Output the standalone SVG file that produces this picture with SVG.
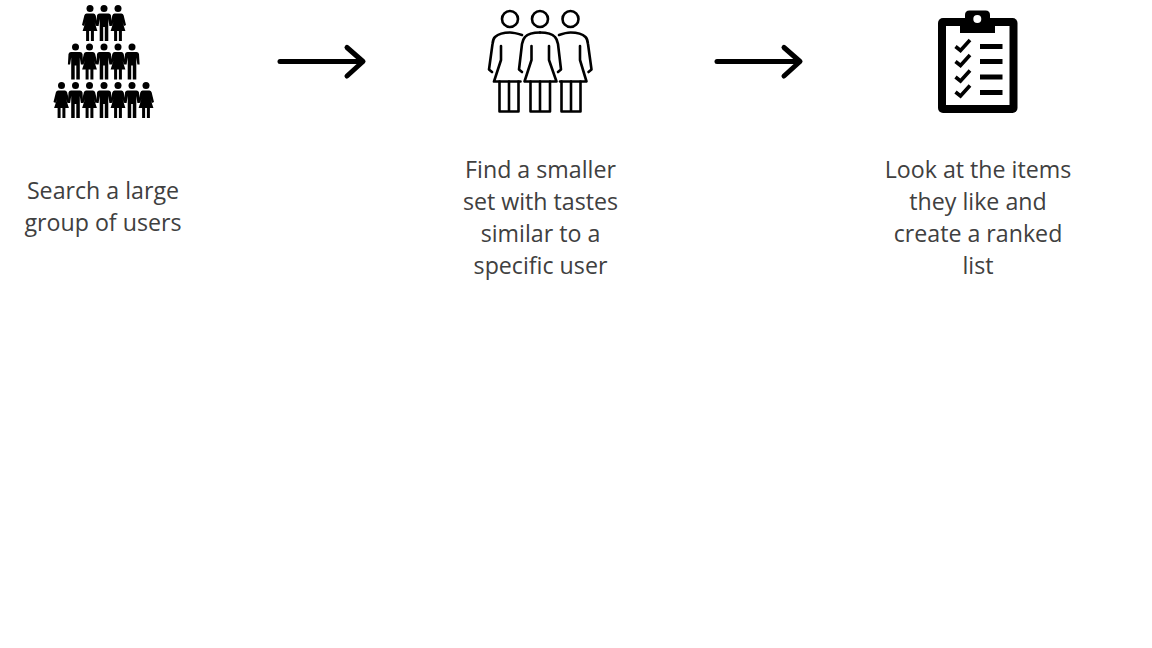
<svg xmlns="http://www.w3.org/2000/svg" xmlns:xlink="http://www.w3.org/1999/xlink" width="1152" height="648" viewBox="0 0 1152 648">
<style>
.t{font-family:"Open Sans","Noto Sans","Liberation Sans",sans-serif;font-size:23.2px;fill:#404040;text-anchor:middle}
.o{fill:none;stroke:#000;stroke-width:2.6;stroke-linecap:round;stroke-linejoin:round}
.a{fill:none;stroke:#000;stroke-width:5;stroke-linecap:round;stroke-linejoin:round}
.c{fill:none;stroke:#000;stroke-width:3.6}
</style>
<defs>
<g id="w"><circle cx="0" cy="3.400" r="3.500"/><path d="M-3.400 8.500H3.400Q5 8.500 5.600 10.200L8 20L6 21L4.500 17L7.400 26H3.900V36H0.900V26H-0.900V36H-3.900V26H-7.400L-4.500 17L-6 21L-8 20L-5.600 10.200Q-5 8.500-3.400 8.500Z"/></g>
<g id="m"><circle cx="0" cy="3.400" r="3.500"/><path d="M-4.500 8.500H4.500Q6.500 8.500 7 10.500L7.600 21H5.400L4.300 14V36H0.800V22H-0.800V36H-4.300V14L-5.400 21H-7.600L-7 10.500Q-6.500 8.500-4.500 8.500Z"/></g>
<g id="aw"><path d="M0 0H82"/><path d="M67 -14L83 0L67 14.500"/></g>
</defs>
<rect width="1152" height="648" fill="#fff"/>
<g id="connectors">
<use xlink:href="#aw" href="#aw" x="280" y="61.500" class="a"/>
<use xlink:href="#aw" href="#aw" x="717" y="61.500" class="a"/>
</g>
<g id="node-large-group">
<use href="#w" x="90" y="5"/><use href="#m" x="104" y="5"/><use href="#w" x="118" y="5"/>
<use href="#m" x="75.500" y="43.500"/><use href="#w" x="89.500" y="43.500"/><use href="#m" x="104" y="43.500"/><use href="#w" x="118" y="43.500"/><use href="#m" x="132" y="43.500"/>
<use href="#w" x="61.500" y="82"/><use href="#m" x="75.500" y="82"/><use href="#w" x="89.500" y="82"/><use href="#m" x="104" y="82"/><use href="#w" x="118" y="82"/><use href="#m" x="132" y="82"/><use href="#w" x="146" y="82"/>
<text class="t" x="103" y="199">Search a large</text>
<text class="t" x="103" y="231">group of users</text>
</g>
<g id="node-smaller-set">
<g class="o">
<circle cx="510" cy="19" r="8"/><circle cx="540" cy="19" r="8"/><circle cx="570.500" cy="19" r="8"/>
<path d="M522 35Q514 32.500 510 32.500Q500 32.500 495 37Q493 39 492.500 44L489 69.500L492 72"/>
<path d="M501 46V60L494 81.500H520.500"/>
<path d="M499.500 81.500V111.500H518.500V81.500M509 81.500V111.500"/>
<path d="M540 32.500Q529 32.500 525 37Q523 39 522 44L519 69.500L522 72"/>
<path d="M540 32.500Q551 32.500 555 37Q557 39 558 44L561 69.500L558 72"/>
<path d="M531.500 46V60L524.500 81.500H556.500L549 60V46"/>
<path d="M530.500 81.500V111.500H550V81.500M540 81.500V111.500"/>
<path d="M559 35Q566 32.500 570.500 32.500Q581 32.500 585.500 37Q587.500 39 588 44L591.500 69.500L588.500 72"/>
<path d="M580 46V60L586.500 81.500H560"/>
<path d="M561.500 81.500V111.500H580.500V81.500M571 81.500V111.500"/>
</g>
<text class="t" x="540.500" y="178">Find a smaller</text>
<text class="t" x="540.500" y="210">set with tastes</text>
<text class="t" x="540.500" y="242">similar to a</text>
<text class="t" x="540.500" y="274">specific user</text>
</g>
<g id="node-ranked-list">
<rect x="938" y="18" width="79.500" height="95" rx="5"/>
<rect x="946" y="26" width="63.500" height="79" fill="#fff"/>
<path d="M960 33V22H965V15Q965 10.500 969.500 10.500H985.500Q990 10.500 990 15V22H995V33Z"/>
<circle cx="977.300" cy="19" r="4" fill="#fff"/>
<g fill="#000"><rect x="980" y="44" width="22.500" height="5"/><rect x="980" y="59" width="22.500" height="5"/><rect x="980" y="74.500" width="22.500" height="5"/><rect x="980" y="90" width="22.500" height="5"/></g>
<g class="c"><path d="M955.500 46.500L960.500 50.500L970 40"/><path d="M955.500 61.500L960.500 65.500L970 55"/><path d="M955.500 77L960.500 81L970 70.500"/><path d="M955.500 92L960.500 96L970 85.500"/></g>
<text class="t" x="978" y="178">Look at the items</text>
<text class="t" x="978" y="210">they like and</text>
<text class="t" x="978" y="242">create a ranked</text>
<text class="t" x="978" y="274">list</text>
</g>
</svg>
